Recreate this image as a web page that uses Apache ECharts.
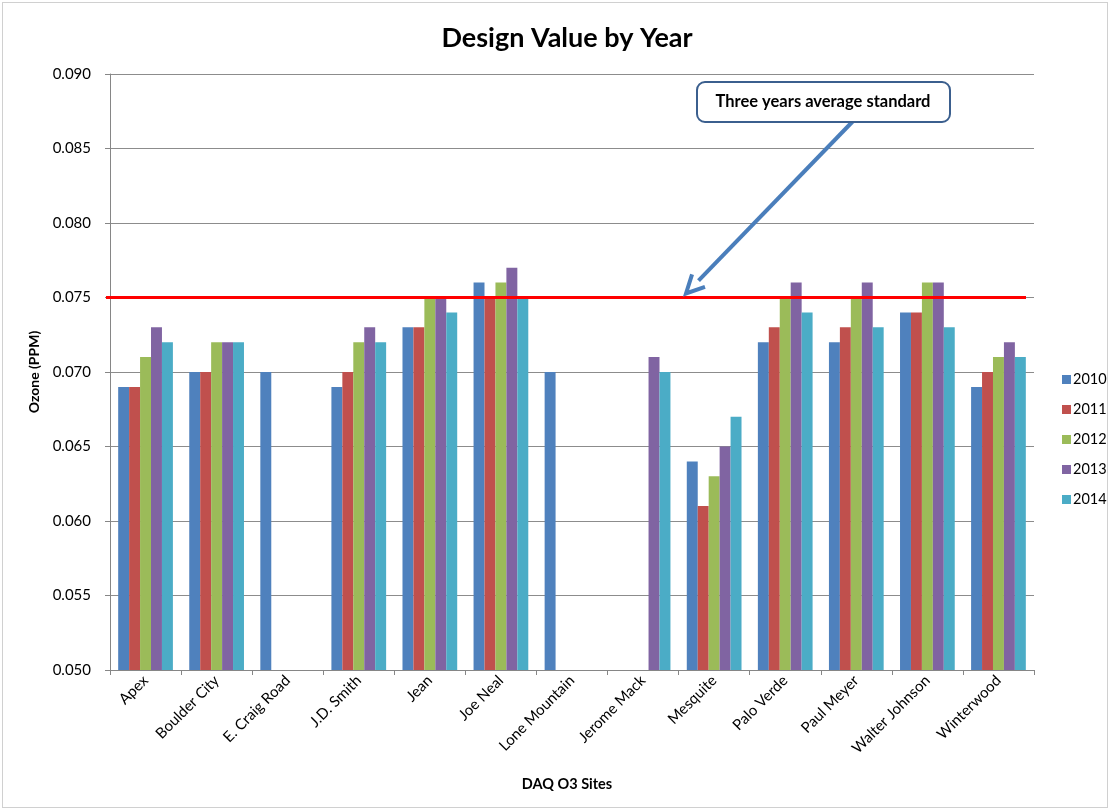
<!DOCTYPE html>
<html>
<head>
<meta charset="utf-8">
<script src="https://cdn.jsdelivr.net/npm/echarts@6/dist/echarts.min.js"></script>
<style>
html,body{margin:0;padding:0;background:#fff;}
#frame{position:absolute;left:2px;top:2px;width:1106px;height:806px;border:1px solid #d0d0d0;box-sizing:border-box;}
#chart{position:absolute;left:0;top:0;width:1112px;height:812px;}
</style>
</head>
<body>
<div id="frame"></div>
<div id="chart"></div>
<script>
const categories = ['Apex','Boulder City','E. Craig Road','J.D. Smith','Jean','Joe Neal','Lone Mountain','Jerome Mack','Mesquite','Palo Verde','Paul Meyer','Walter Johnson','Winterwood'];
const years = ['2010','2011','2012','2013','2014'];
const v2010 = [0.069,0.070,0.070,0.069,0.073,0.076,0.070,null,0.064,0.072,0.072,0.074,0.069];
const v2011 = [0.069,0.070,null,0.070,0.073,0.075,null,null,0.061,0.073,0.073,0.074,0.070];
const v2012 = [0.071,0.072,null,0.072,0.075,0.076,null,null,0.063,0.075,0.075,0.076,0.071];
const v2013 = [0.073,0.072,null,0.073,0.075,0.077,null,0.071,0.065,0.076,0.076,0.076,0.072];
const v2014 = [0.072,0.072,null,0.072,0.074,0.075,null,0.070,0.067,0.074,0.073,0.073,0.071];
const standard = 0.075;
const yTicks = {min:0.050, max:0.090, interval:0.005};
const colors = ['#4F81BD','#C0504D','#9BBB59','#8064A2','#4BACC6'];
const seriesValues = [v2010,v2011,v2012,v2013,v2014];
const FONT = 'Lato, "Open Sans", sans-serif';

const chart = echarts.init(document.getElementById('chart'), null, {renderer:'canvas'});
const series = years.map((y,i)=>({
  name:y, type:'bar', data:seriesValues[i], barGap:'0%', barCategoryGap:'23%',
  itemStyle:{color:colors[i]}, animation:false
}));
chart.setOption({
  animation:false,
  color:colors,
  title:{text:'Design Value by Year', left:562, textAlign:'center', top:20,
    textStyle:{fontFamily:FONT, fontSize:27, fontWeight:'bold', color:'#000'}},
  grid:{left:110, right:78, top:74, bottom:142},
  legend:{orient:'vertical', left:1057, top:367, itemWidth:9, itemHeight:9, itemGap:15,
    icon:'rect', textStyle:{fontFamily:FONT, fontSize:14.5, color:'#000', padding:[0,0,0,-3]},
    data:years},
  xAxis:{type:'category', data:categories, name:'DAQ O3 Sites', nameLocation:'middle', nameGap:107,
    nameTextStyle:{fontFamily:FONT, fontSize:14.5, fontWeight:'bold', color:'#000', padding:[0,10,0,0]},
    axisLine:{lineStyle:{color:'#868686'}}, axisTick:{show:true, length:5, lineStyle:{color:'#868686'}},
    axisLabel:{rotate:45, fontFamily:FONT, fontSize:15, color:'#000', interval:0, margin:8}},
  yAxis:{type:'value', min:yTicks.min, max:yTicks.max, interval:yTicks.interval,
    name:'Ozone (PPM)', nameLocation:'middle', nameGap:66,
    nameTextStyle:{fontFamily:FONT, fontSize:14, fontWeight:'bold', color:'#000'},
    axisLine:{show:true, lineStyle:{color:'#868686'}}, axisTick:{show:true, length:5, lineStyle:{color:'#868686'}},
    splitLine:{lineStyle:{color:'#8c8c8c', width:1}},
    axisLabel:{formatter:v=>v.toFixed(3), fontFamily:FONT, fontSize:15, color:'#000', margin:19}},
  series:series
});

// standard line and annotation, positioned through the chart's own y scale
const stdY = chart.convertToPixel({yAxisIndex:0}, standard);
const gridRect = chart.getModel().getComponent('grid').coordinateSystem.getRect();
const tipY = stdY - 4;
const tipX = 686;
const startX = 858, startY = 116;
const ang = Math.atan2(tipY-startY, tipX-startX);
const hl = 18, hw = 9;
const bx = tipX - hl*Math.cos(ang), by = tipY - hl*Math.sin(ang);
const px = -Math.sin(ang), py = Math.cos(ang);
chart.setOption({graphic:[
  {type:'line', shape:{x1:gridRect.x-4, y1:stdY, x2:gridRect.x+gridRect.width-8, y2:stdY},
    style:{stroke:'#ff0000', lineWidth:3}, z:90},
  {type:'line', shape:{x1:startX,y1:startY,x2:bx,y2:by}, style:{stroke:'#4A7EBB', lineWidth:4}, z:100},
  {type:'polyline', shape:{points:[[bx+px*hw,by+py*hw],[tipX,tipY],[bx-px*hw,by-py*hw]]},
    style:{stroke:'#4A7EBB', lineWidth:4, fill:null, lineJoin:'miter'}, z:100},
  {type:'rect', shape:{x:697,y:82,width:253,height:40,r:8}, style:{fill:'#fff', stroke:'#3B5F8E', lineWidth:2}, z:101},
  {type:'text', x:823, y:102, style:{text:'Three years average standard', fontFamily:FONT, fontSize:16.5, fontWeight:'bold',
    fill:'#000', align:'center', verticalAlign:'middle'}, z:102}
]});
</script>
</body>
</html>
